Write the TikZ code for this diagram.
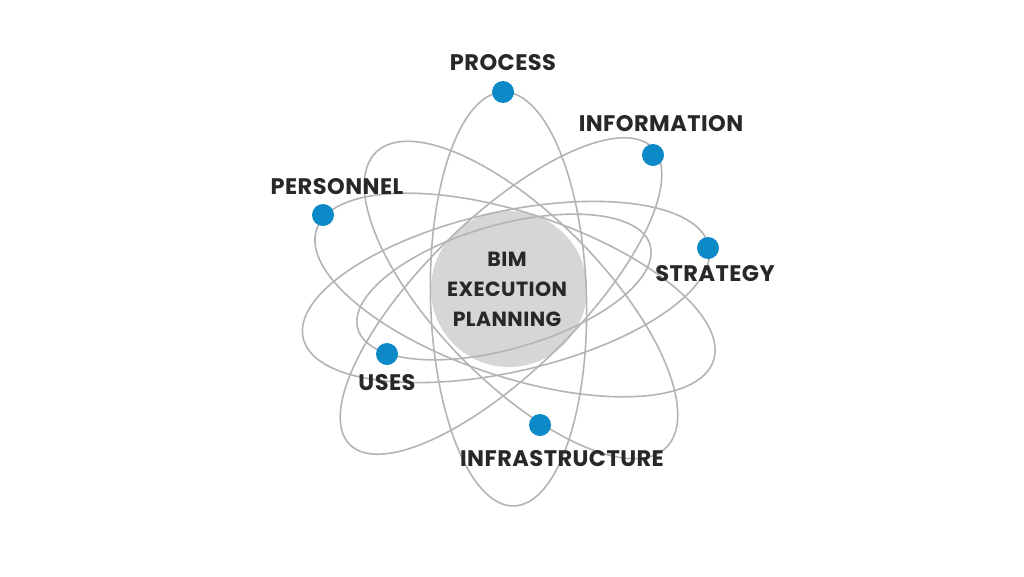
\documentclass[tikz,border=0pt]{standalone}
\usepackage{fontspec}
\newfontfamily\lblfont{Poppins Bold}[LetterSpace=2]
\definecolor{orbitgray}{RGB}{180,180,180}
\definecolor{dotblue}{RGB}{12,138,200}
\definecolor{hubgray}{RGB}{214,214,214}
\definecolor{lblgray}{RGB}{40,40,40}
\begin{document}
\begin{tikzpicture}[x=1pt,y=-1pt,
    orbit/.style={draw=orbitgray,line width=1.6pt},
    blob/.style={circle,fill=dotblue,inner sep=0pt,minimum size=22pt},
    lbl/.style={text=lblgray,inner sep=0pt,font=\lblfont\fontsize{22.5}{26}\selectfont}]
                \fill[white] (0,0) rectangle (1024,576);
                \useasboundingbox (0,0) rectangle (1024,576);
                \node[circle,fill=hubgray,minimum size=156pt,inner sep=0pt] (hub) at (509,289) {};
                % orbits
                \draw[orbit,rotate around={1.5:(508.5,299)}] (508.5,299) ellipse [x radius=78,y radius=207];
                \draw[orbit,rotate around={44.4:(501,296)}] (501,296) ellipse [x radius=212,y radius=77];
                \draw[orbit,rotate around={-45.5:(521,300)}] (521,300) ellipse [x radius=207,y radius=83];
                \draw[orbit,rotate around={12.8:(506,292)}] (506,292) ellipse [x radius=208,y radius=80];
                \draw[orbit,rotate around={-18.3:(515,295)}] (515,295) ellipse [x radius=209,y radius=82];
                \draw[orbit,rotate around={16:(504,287)}] (504,287) ellipse [x radius=152,y radius=62];
                % dots
                \node[blob] (process) at (503,92) {};
                \node[blob] (information) at (653,155) {};
                \node[blob] (personnel) at (323,215) {};
                \node[blob] (strategy) at (708,248) {};
                \node[blob] (uses) at (387,354) {};
                \node[blob] (infrastructure) at (540,425) {};
                % labels
                \node[lbl] (processlbl) at (503,63) {PROCESS};
                \node[lbl] (informationlbl) at (661,124) {INFORMATION};
                \node[lbl] (personnellbl) at (337,187) {PERSONNEL};
                \node[lbl] (strategylbl) at (715,274) {STRATEGY};
                \node[lbl] (useslbl) at (387,383) {USES};
                \node[lbl] (infrastructurelbl) at (562,459) {INFRASTRUCTURE};
                \node[lbl,align=center,font=\lblfont\fontsize{20.5}{30}\selectfont] (hublbl) at (507,289) {BIM\\EXECUTION\\PLANNING};
            \end{tikzpicture}
\end{document}
